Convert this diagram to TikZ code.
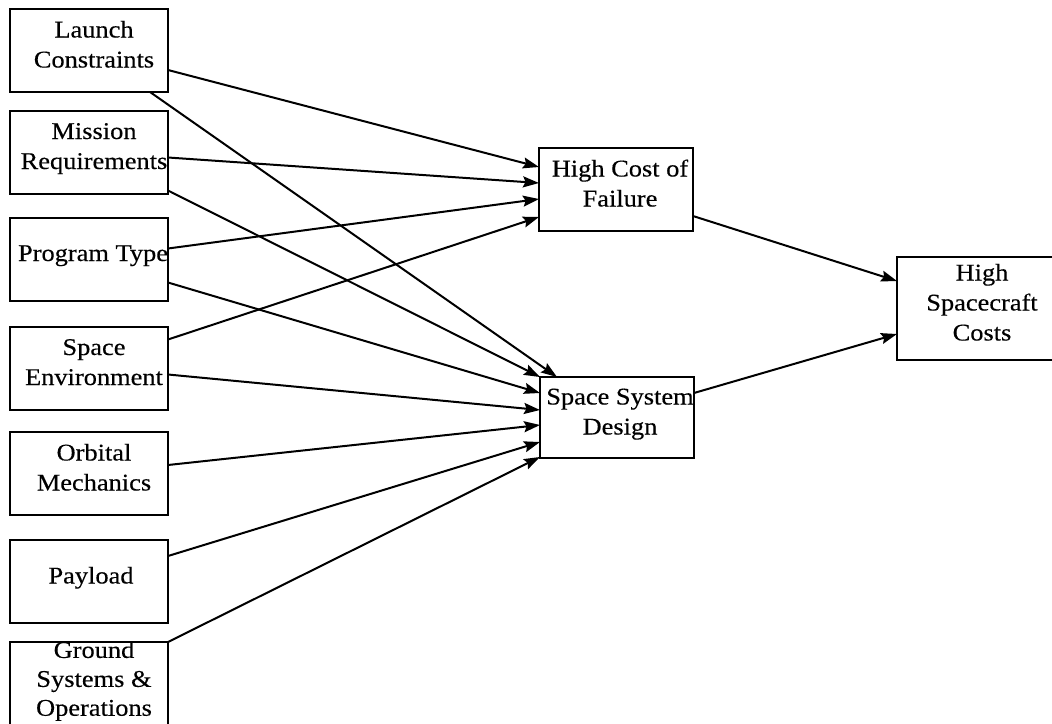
\documentclass[tikz,border=0pt]{standalone}
\usepackage{fontspec}
\setmainfont{Liberation Serif}
\newfontfamily\boxfont[FakeStretch=1.1,FakeBold=0.3]{Liberation Serif}
\usetikzlibrary{calc,arrows.meta}
% one text line with fixed height/depth so multi-line labels stack evenly
\newcommand\tl{\rule[-13pt]{0pt}{30pt}}

\begin{document}
\begin{tikzpicture}[x=1pt,y=-1pt,
  box/.style={draw, line width=2pt, minimum width=158pt, minimum height=83pt,
              inner sep=0pt, outer sep=0pt},
  boxtext/.style={inner sep=0pt, align=center,
                  font=\boxfont\fontsize{24}{30}\selectfont},
  link/.style={line width=2pt, -{Stealth[length=16pt,width=11pt,inset=2.5pt]}}
]
\useasboundingbox (0,0) rectangle (1052,723);

% driver boxes (left column)
\node[box] (lc) at (89,50.5)  {};
\node[box] (mr) at (89,152)   {};
\node[box] (pt) at (89,259)   {};
\node[box] (se) at (89,368)   {};
\node[box] (om) at (89,473.5) {};
\node[box] (pl) at (89,581.5) {};
\node[box] (gs) at (89,683.5) {};

% intermediate and result boxes
\node[box, minimum width=154pt] (hcf) at (616,189.5) {};
\node[box, minimum width=154pt, minimum height=81pt] (ssd) at (617,417.5) {};
\node[box, minimum height=103pt] (hsc) at (976,308.5) {};

% labels
\node[boxtext] (lc-t) at ($(lc.center)+(5,0)$) {\tl Launch\\\tl Constraints};
\node[boxtext] (mr-t) at ($(mr.center)+(5,0)$) {\tl Mission\\\tl Requirements};
\node[boxtext] (pt-t) at ($(pt.center)+(4,0)$) {\tl Program Type};
\node[boxtext] (se-t) at ($(se.center)+(5,0)$) {\tl Space\\\tl Environment};
\node[boxtext] (om-t) at ($(om.center)+(5,0)$) {\tl Orbital\\\tl Mechanics};
\node[boxtext] (pl-t) at ($(pl.center)+(2,0)$) {\tl Payload};
\node[boxtext, font=\boxfont\fontsize{24}{26.5}\selectfont] (gs-t) at ($(gs.center)+(5,1)$)
  {\rule[-12pt]{0pt}{26.5pt}Ground\\\rule[-12pt]{0pt}{26.5pt}Systems \&\\\rule[-12pt]{0pt}{26.5pt}Operations};
\node[boxtext] (hcf-t) at ($(hcf.center)+(4,0)$) {\tl High Cost of\\\tl Failure};
\node[boxtext] (ssd-t) at ($(ssd.center)+(3,0)$) {\tl Space System\\\tl Design};
\node[boxtext] (hsc-t) at ($(hsc.center)+(6,0)$) {\tl High\\\tl Spacecraft\\\tl Costs};

% influences on the cost of failure
\draw[link] ($(lc.north east)+(0,61)$) -- ($(hcf.north west)+(0,19)$);
\draw[link] ($(mr.north east)+(0,47)$) -- ($(hcf.north west)+(0,35)$);
\draw[link] ($(pt.north east)+(0,31)$) -- ($(hcf.north west)+(0,51)$);
\draw[link] ($(se.north east)+(0,13)$) -- ($(hcf.north west)+(0,69)$);

% influences on the system design
\draw[link] ($(lc.south west)+(140,0)$) -- ($(ssd.north west)+(17,0)$);
\draw[link] ($(mr.north east)+(0,80)$) -- (ssd.north west);
\draw[link] ($(pt.north east)+(0,65)$) -- ($(ssd.north west)+(0,16)$);
\draw[link] ($(se.north east)+(0,48)$) -- ($(ssd.north west)+(0,33)$);
\draw[link] ($(om.north east)+(0,33)$) -- ($(ssd.north west)+(0,48)$);
\draw[link] ($(pl.north east)+(0,16)$) -- ($(ssd.north west)+(0,65)$);
\draw[link] (gs.north east) -- ($(ssd.north west)+(0,80)$);

% both lead to high spacecraft costs
\draw[link] ($(hcf.north east)+(0,68)$) -- ($(hsc.north west)+(0,24)$);
\draw[link] ($(ssd.north east)+(0,16)$) -- ($(hsc.north west)+(0,77)$);
\end{tikzpicture}
\end{document}
